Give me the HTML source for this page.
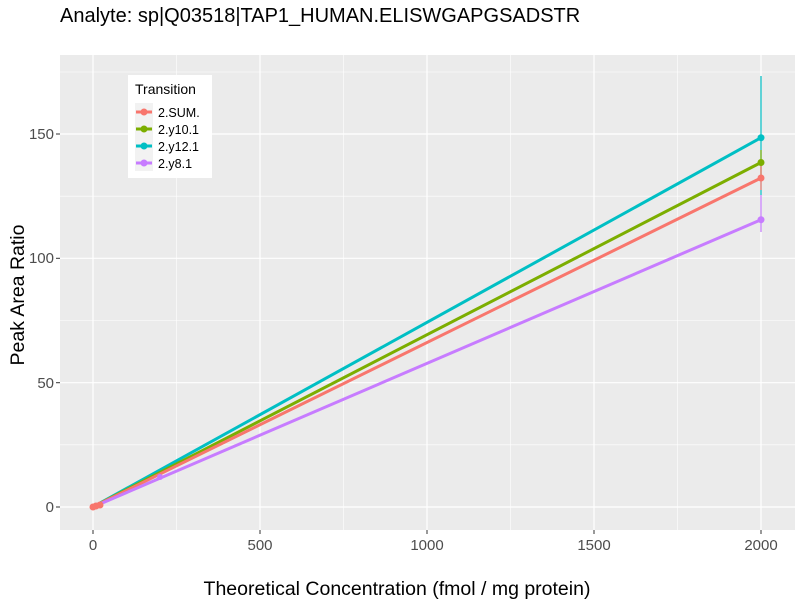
<!DOCTYPE html>
<html><head><style>body{margin:0;background:#fff}</style></head><body>
<svg width="800" height="600" xmlns="http://www.w3.org/2000/svg" font-family="Liberation Sans, sans-serif">
<rect width="800" height="600" fill="#fff"/>
<text x="60" y="22" font-size="20" fill="#000">Analyte: sp|Q03518|TAP1_HUMAN.ELISWGAPGSADSTR</text>
<rect x="60" y="55" width="735" height="475" fill="#ebebeb"/>
<g stroke="#fff" stroke-width="0.6">
<line x1="60" x2="795" y1="444.8" y2="444.8"/><line x1="60" x2="795" y1="320.5" y2="320.5"/><line x1="60" x2="795" y1="196.2" y2="196.2"/><line x1="60" x2="795" y1="72" y2="72"/>
<line y1="55" y2="530" x1="176.5" x2="176.5"/><line y1="55" y2="530" x1="343.5" x2="343.5"/><line y1="55" y2="530" x1="510.5" x2="510.5"/><line y1="55" y2="530" x1="677.5" x2="677.5"/>
</g>
<g stroke="#fff" stroke-width="1.2">
<line x1="60" x2="795" y1="507" y2="507"/><line x1="60" x2="795" y1="382.7" y2="382.7"/><line x1="60" x2="795" y1="258.3" y2="258.3"/><line x1="60" x2="795" y1="134" y2="134"/>
<line y1="55" y2="530" x1="93" x2="93"/><line y1="55" y2="530" x1="260" x2="260"/><line y1="55" y2="530" x1="427" x2="427"/><line y1="55" y2="530" x1="594" x2="594"/><line y1="55" y2="530" x1="761" x2="761"/>
</g>
<g stroke-width="1.2">
<line x1="761" x2="761" y1="76" y2="195" stroke="#00bfc4"/>
<line x1="761" x2="761" y1="150" y2="175" stroke="#7cae00"/>
<line x1="761" x2="761" y1="160" y2="190" stroke="#f8766d"/>
<line x1="761" x2="761" y1="195" y2="232" stroke="#c77cff"/>
</g>
<g stroke-width="3" fill="none">
<line x1="93" y1="507" x2="761" y2="137.7" stroke="#00bfc4"/>
<line x1="93" y1="507" x2="761" y2="162.5" stroke="#7cae00"/>
<line x1="93" y1="507" x2="761" y2="178" stroke="#f8766d"/>
<line x1="93" y1="507" x2="761" y2="219.7" stroke="#c77cff"/>
</g>
<g>
<circle cx="761" cy="137.7" r="3.5" fill="#00bfc4"/><circle cx="761" cy="162.5" r="3.5" fill="#7cae00"/><circle cx="761" cy="178" r="3.5" fill="#f8766d"/><circle cx="761" cy="219.7" r="3.5" fill="#c77cff"/>
<circle cx="160" cy="477" r="3" fill="#c77cff"/>
<circle cx="93" cy="507" r="3.5" fill="#f8766d"/><circle cx="96" cy="506" r="3.5" fill="#f8766d"/><circle cx="100" cy="505" r="3.5" fill="#f8766d"/>
</g>
<g font-size="15" fill="#4d4d4d" text-anchor="end">
<text x="54" y="512">0</text><text x="54" y="388">50</text><text x="54" y="263">100</text><text x="54" y="139">150</text>
</g>
<g stroke="#333" stroke-width="1"><line x1="56" x2="60" y1="507" y2="507"/><line x1="56" x2="60" y1="382.7" y2="382.7"/><line x1="56" x2="60" y1="258.3" y2="258.3"/><line x1="56" x2="60" y1="134" y2="134"/>
<line y1="530" y2="534" x1="93" x2="93"/><line y1="530" y2="534" x1="260" x2="260"/><line y1="530" y2="534" x1="427" x2="427"/><line y1="530" y2="534" x1="594" x2="594"/><line y1="530" y2="534" x1="761" x2="761"/></g>
<g font-size="15" fill="#4d4d4d" text-anchor="middle">
<text x="93" y="550">0</text><text x="260" y="550">500</text><text x="427" y="550">1000</text><text x="594" y="550">1500</text><text x="761" y="550">2000</text>
</g>
<text x="397" y="595" font-size="19.5" text-anchor="middle">Theoretical Concentration (fmol / mg protein)</text>
<text transform="translate(24,295) rotate(-90)" font-size="19.5" text-anchor="middle">Peak Area Ratio</text>
<rect x="128" y="75" width="84" height="103" fill="#fff"/>
<text x="135" y="94" font-size="14">Transition</text>
<g font-size="12.5">
<rect x="135" y="103" width="18" height="17" fill="#f2f2f2"/><line x1="136" x2="152" y1="112" y2="112" stroke="#f8766d" stroke-width="3"/><circle cx="144" cy="112" r="3.5" fill="#f8766d"/><text x="158" y="117">2.SUM.</text>
<rect x="135" y="120" width="18" height="17" fill="#f2f2f2"/><line x1="136" x2="152" y1="129" y2="129" stroke="#7cae00" stroke-width="3"/><circle cx="144" cy="129" r="3.5" fill="#7cae00"/><text x="158" y="134">2.y10.1</text>
<rect x="135" y="137" width="18" height="17" fill="#f2f2f2"/><line x1="136" x2="152" y1="146" y2="146" stroke="#00bfc4" stroke-width="3"/><circle cx="144" cy="146" r="3.5" fill="#00bfc4"/><text x="158" y="151">2.y12.1</text>
<rect x="135" y="154" width="18" height="17" fill="#f2f2f2"/><line x1="136" x2="152" y1="163" y2="163" stroke="#c77cff" stroke-width="3"/><circle cx="144" cy="163" r="3.5" fill="#c77cff"/><text x="158" y="168">2.y8.1</text>
</g>
</svg>
</body></html>
